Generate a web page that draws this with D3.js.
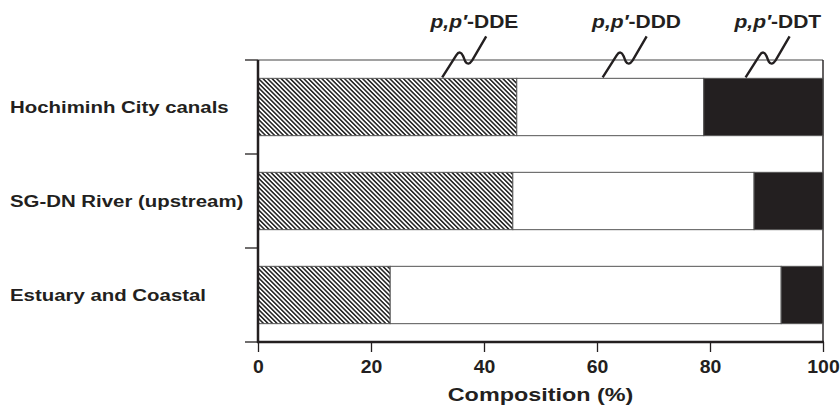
<!DOCTYPE html>
<html><head><meta charset="utf-8">
<script src="https://cdn.jsdelivr.net/npm/d3@7"></script>
<style>body{margin:0;background:#fff}svg{display:block}text{font-family:"Liberation Sans",Arial,sans-serif;font-weight:bold;fill:#231f20}</style>
</head><body><svg id="c" width="840" height="409"></svg>
<script>
const categories = ["Hochiminh City canals", "SG-DN River (upstream)", "Estuary and Coastal"];
const seriesNames = ["DDE", "DDD", "DDT"];
const dde = [45.8, 45.1, 23.4];
const ddd = [33.1, 42.7, 69.2];
const ddt = [21.1, 12.2, 7.4];
const xTicks = [0, 20, 40, 60, 80, 100];
const xTitle = "Composition (%)";
// leader annotation anchor positions (in % units, at top of first bar) and label centres
const leaderX = [32.6, 61.0, 86.3];
const labelX = [38.3, 67.0, 92.0];

const svg = d3.select("#c");
const m = {l: 258, r: 823, t: 60, b: 342};
const x = d3.scaleLinear().domain([0, 100]).range([m.l, m.r]);
const y = d3.scaleBand().domain(categories).range([m.t, m.b]).paddingInner(0.39).paddingOuter(0.195);

const defs = svg.append("defs");
const pat = defs.append("pattern").attr("id", "hatch").attr("patternUnits", "userSpaceOnUse")
  .attr("width", 3.2).attr("height", 3.2).attr("patternTransform", "rotate(45)");
pat.append("rect").attr("width", 3.2).attr("height", 3.2).attr("fill", "#fff");
pat.append("rect").attr("width", 3.2).attr("height", 1.6).attr("fill", "#2a2a2a");

const fills = ["url(#hatch)", "#ffffff", "#231f20"];
const data = categories.map((c, i) => ({c, vals: [dde[i], ddd[i], ddt[i]]}));
const stack = d3.stack().keys([0, 1, 2]).value((d, k) => d.vals[k])(data);

// frame (top and right)
svg.append("line").attr("x1", x(0)).attr("x2", x(100)).attr("y1", m.t).attr("y2", m.t).attr("stroke", "#444").attr("stroke-width", 1.2);
svg.append("line").attr("x1", x(100)).attr("x2", x(100)).attr("y1", m.t).attr("y2", m.b).attr("stroke", "#231f20").attr("stroke-width", 1.4);

stack.forEach((s, k) => {
  svg.append("g").selectAll("rect").data(s).join("rect")
    .attr("x", d => x(d[0])).attr("width", d => x(d[1]) - x(d[0]))
    .attr("y", d => y(d.data.c)).attr("height", y.bandwidth())
    .attr("fill", fills[k]).attr("stroke", "#555").attr("stroke-width", 1);
});

// axes
const xa = svg.append("g").attr("transform", `translate(0,${m.b})`)
  .call(d3.axisBottom(x).tickValues(xTicks).tickSize(10).tickFormat(d3.format("d")));
xa.select(".domain").attr("stroke", "#231f20").attr("stroke-width", 2.5).attr("d", `M${x(0)-1},0H${x(100)+1}`);
xa.selectAll(".tick line").attr("stroke", "#231f20").attr("stroke-width", 1.3);
xa.selectAll(".tick text").remove();
xa.selectAll(".tick").append("text")
  .attr("transform", "translate(0,31) scale(1.08,1)")
  .attr("text-anchor", "middle").attr("font-size", 18)
  .attr("font-family", "Liberation Sans, Arial, sans-serif").attr("font-weight", "bold").attr("fill", "#231f20")
  .text(d => d);

// y axis line and boundary ticks
svg.append("line").attr("x1", m.l).attr("x2", m.l).attr("y1", m.t).attr("y2", m.b + 1).attr("stroke", "#231f20").attr("stroke-width", 2.5);
const bounds = categories.map(c => y(c) - y.step() * y.paddingInner() / 2).concat([m.b]);
bounds[0] = m.t;
svg.append("g").selectAll("line").data(bounds).join("line")
  .attr("x1", m.l - 13).attr("x2", m.l).attr("y1", d => d).attr("y2", d => d)
  .attr("stroke", "#231f20").attr("stroke-width", 1.3);

// category labels
svg.append("g").selectAll("text").data(categories).join("text")
  .attr("transform", d => `translate(10,${y(d) + y.bandwidth() / 2 + 6}) scale(1.2,1)`)
  .attr("font-size", 17).text(d => d);

// x title
svg.append("text").attr("transform", `translate(${x(50)},401) scale(1.23,1)`).attr("text-anchor", "middle").attr("font-size", 19).text(xTitle);

// series labels with squiggle leaders
const topY = y(categories[0]);
seriesNames.forEach((n, i) => {
  const bx = x(leaderX[i]);
  const path = `M${bx},${topY - 1} L${bx + 14},${topY - 23} Q${bx + 18},${topY - 29} ${bx + 21},${topY - 22} L${bx + 23},${topY - 17} Q${bx + 26},${topY - 12} ${bx + 30},${topY - 18} L${bx + 44},${topY - 42}`;
  svg.append("path").attr("d", path).attr("fill", "none").attr("stroke", "#231f20").attr("stroke-width", 2.4).attr("stroke-linecap", "butt");
  const t = svg.append("text").attr("transform", `translate(${x(labelX[i])},28) scale(1.2,1)`).attr("text-anchor", "middle").attr("font-size", 17.5);
  t.append("tspan").attr("font-style", "italic").text("p,p\u2032");
  t.append("tspan").text("-DD" + n.slice(2));
});
</script></body></html>
